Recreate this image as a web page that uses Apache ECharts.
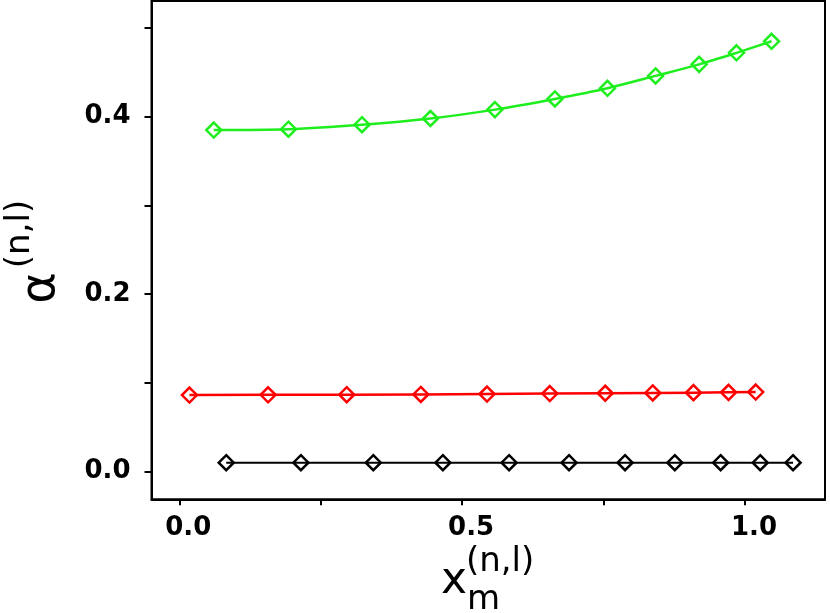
<!DOCTYPE html>
<html>
<head>
<meta charset="utf-8">
<script src="https://cdn.jsdelivr.net/npm/echarts@6/dist/echarts.min.js"></script>
<style>
  html, body { margin: 0; padding: 0; background: #fff; }
  #chart { width: 830px; height: 613px; }
</style>
</head>
<body>
<div id="chart"></div>
<script>
// values
const greenX = [0.061, 0.193, 0.323, 0.444, 0.558, 0.664, 0.757, 0.842, 0.919, 0.985, 1.047]
const greenY = [0.385, 0.386, 0.391, 0.398, 0.408, 0.420, 0.432, 0.446, 0.459, 0.472, 0.485]

const redX = [0.018, 0.157, 0.296, 0.427, 0.544, 0.655, 0.753, 0.837, 0.909, 0.971, 1.019]
const redY = [0.0864, 0.0866, 0.0868, 0.0871, 0.0875, 0.0880, 0.0884, 0.0888, 0.0891, 0.0894, 0.0897]

const blackX = [0.083, 0.215, 0.343, 0.466, 0.583, 0.689, 0.788, 0.876, 0.957, 1.027, 1.085]
const blackY = [0.0101, 0.0101, 0.0101, 0.0101, 0.0101, 0.0101, 0.0101, 0.0101, 0.0101, 0.0101, 0.0101]

const xTicks = [0, 0.25, 0.5, 0.75, 1.0]
const xLabels = [0, 0.5, 1.0]
const yTicks = [0, 0.1, 0.2, 0.3, 0.4, 0.5]
const yLabels = [0, 0.2, 0.4]

const pairs = (xs, ys) => xs.map((x, i) => [x, ys[i]])

const chart = echarts.init(document.getElementById('chart'), null, { renderer: 'canvas' })

const lineSeries = (data, color, width, smooth) => ({
  type: 'line',
  data: data,
  smooth: smooth,
  symbol: 'diamond',
  symbolSize: 15,
  showSymbol: true,
  animation: false,
  lineStyle: { color: color, width: width },
  itemStyle: { color: 'rgba(255,255,255,0)', borderColor: color, borderWidth: 2.5 },
  z: 3
})

const labelFont = {
  fontFamily: 'DejaVu Sans',
  fontWeight: 'bold',
  fontSize: 26,
  color: '#000'
}

const option = {
  backgroundColor: '#fff',
  animation: false,
  grid: {
    left: 151.5,
    right: 5,
    top: 1,
    bottom: 113.7,
    show: true,
    borderColor: '#000',
    borderWidth: 2
  },
  xAxis: {
    type: 'value',
    min: -0.0491,
    max: 1.1415,
    splitLine: { show: false },
    axisLine: { show: true, onZero: false, lineStyle: { color: '#000', width: 2 } },
    axisTick: { show: true, inside: false, length: 6, customValues: xTicks, lineStyle: { color: '#000', width: 2 } },
    axisLabel: Object.assign({
      margin: 16,
      customValues: xLabels,
      padding: [0, 0, 0, 18],
      formatter: v => v.toFixed(1)
    }, labelFont)
  },
  yAxis: {
    type: 'value',
    min: -0.0311,
    max: 0.5304,
    splitLine: { show: false },
    axisLine: { show: true, onZero: false, lineStyle: { color: '#000', width: 2 } },
    axisTick: { show: true, inside: false, length: 7, customValues: yTicks, lineStyle: { color: '#000', width: 2 } },
    axisLabel: Object.assign({
      margin: 21,
      customValues: yLabels,
      formatter: v => v.toFixed(1)
    }, labelFont)
  },
  graphic: [
    // x axis title
    { type: 'text', left: 441, top: 560, style: { text: 'x', font: '44px "DejaVu Sans"', fill: '#000' } },
    { type: 'text', left: 466, top: 545, style: { text: '(n,l)', font: '34px "DejaVu Sans"', fill: '#000' } },
    { type: 'text', left: 467, top: 583, style: { text: 'm', font: '34px "DejaVu Sans"', fill: '#000' } },
    // y axis title (rotated)
    { type: 'text', x: 42, y: 288, rotation: Math.PI / 2, style: { text: 'α', font: '48px "DejaVu Sans"', fill: '#000', align: 'center', verticalAlign: 'middle' } },
    { type: 'text', x: 20, y: 234, rotation: Math.PI / 2, style: { text: '(n,l)', font: '34px "DejaVu Sans"', fill: '#000', align: 'center', verticalAlign: 'middle' } }
  ],
  series: [
    lineSeries(pairs(greenX, greenY), '#1eee1e', 2.5, 0.3),
    lineSeries(pairs(redX, redY), '#ff0000', 2.5, false),
    lineSeries(pairs(blackX, blackY), '#000000', 2, false)
  ]
}

chart.setOption(option)
</script>
</body>
</html>
